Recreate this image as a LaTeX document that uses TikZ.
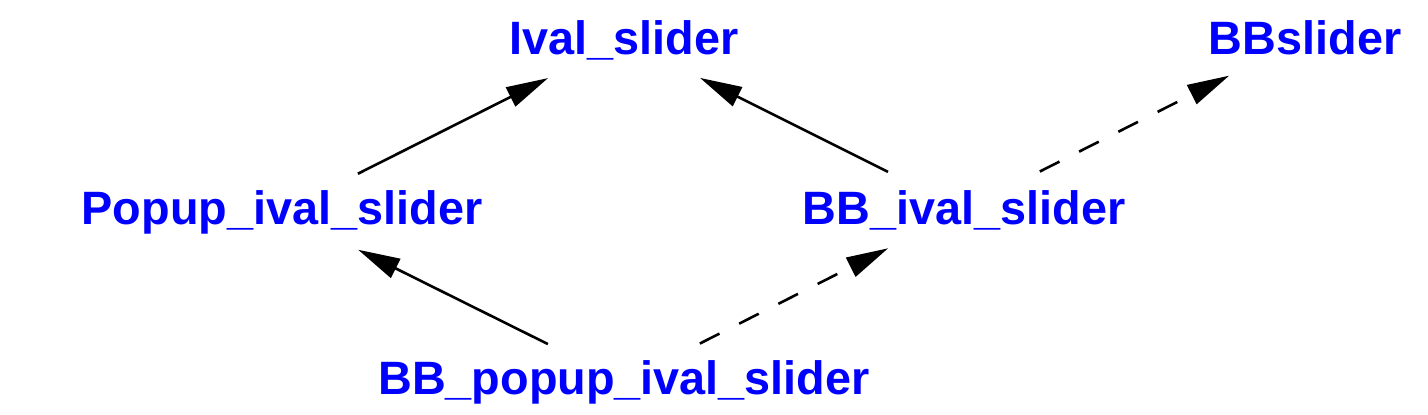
\documentclass[tikz,border=0pt]{standalone}
\usepackage{fontspec}
\setmainfont{Liberation Sans}
\usetikzlibrary{arrows.meta}
\begin{document}
\begin{tikzpicture}[x=0.5pt,y=-0.5pt,
  cls/.style={anchor=base,inner sep=0pt,text=blue,font=\fontsize{23.4}{28}\selectfont\bfseries},
  isa/.style={-{Triangle[length=21pt,width=10.5pt]},line width=1.3pt,shorten <=42.5pt,shorten >=42.5pt},
  uses/.style={isa,dash pattern=on 11pt off 11pt}]
\useasboundingbox (0,0) rectangle (1428,414);

\node[cls] (ival) at(624,54){Ival\_slider};
\node[cls] (bbslider) at(1305,54){BBslider};
\node[cls] (popup) at(282,224){Popup\_ival\_slider};
\node[cls] (bbival) at(964,224){BB\_ival\_slider};
\node[cls] (bbpopup) at(624,394){BB\_popup\_ival\_slider};

\draw[isa](popup.center)--(ival.center);
\draw[isa](bbival.center)--(ival.center);
\draw[uses](bbival.center)--(bbslider.center);
\draw[isa](bbpopup.center)--(popup.center);
\draw[uses](bbpopup.center)--(bbival.center);
\end{tikzpicture}
\end{document}
